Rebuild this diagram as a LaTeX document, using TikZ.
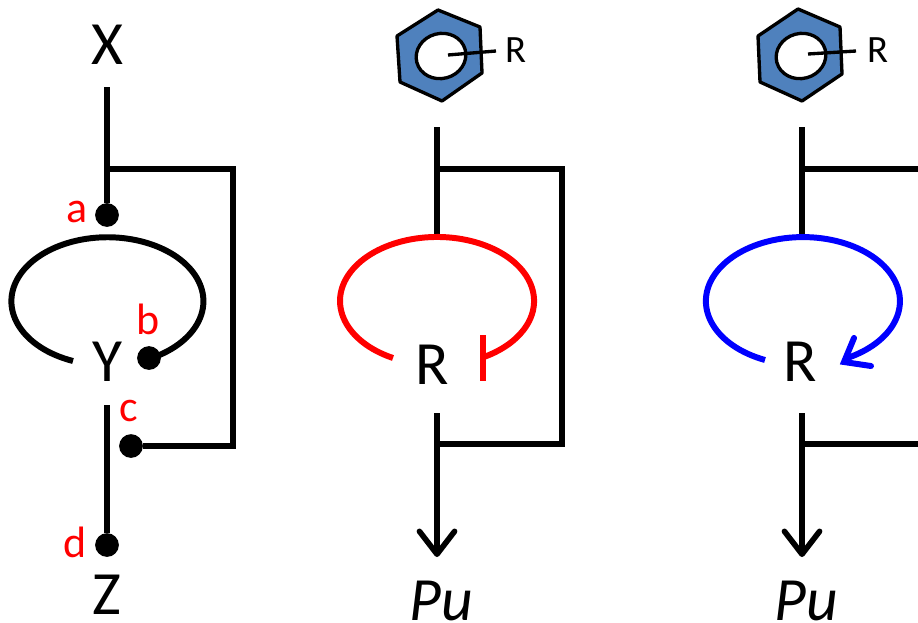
\documentclass[tikz,border=0pt]{standalone}
\usepackage{fontspec}
\setmainfont{Carlito}
\usetikzlibrary{arrows.meta}
\definecolor{ringblue}{RGB}{79,129,189}
\tikzset{
    wire/.style={line width=3.2pt},
    arrowwire/.style={wire, -{Straight Barb[length=13pt, width=20pt, line width=3.2pt, round]}},
    loopwire/.style={line width=3.4pt},
    dotmark/.style={circle, fill=black, inner sep=0pt, minimum size=13.5pt},
    biglabel/.style={inner sep=0pt, font=\fontsize{35}{35}\selectfont},
    productlabel/.style={inner sep=0pt, font=\fontsize{35}{35}\selectfont\itshape},
    sitelabel/.style={inner sep=0pt, text=red, font=\fontsize{25}{25}\selectfont},
    grouplabel/.style={inner sep=0pt, font=\fontsize{22}{22}\selectfont},
    ringfill/.style={draw=black, line width=1.9pt, fill=ringblue, line join=round},
    ringhole/.style={draw=black, line width=1.9pt, fill=white},
    ringbond/.style={line width=1.9pt},
}
\begin{document}
\begin{tikzpicture}[x=0.02cm, y=-0.02cm]
    \useasboundingbox (0,0) rectangle (918,622);
    % left: X, Y, Z with the sites
    \node[biglabel] (X) at (107,45) {X};
    \node[biglabel] (Y) at (107,362) {Y};
    \node[biglabel] (Z) at (107,595) {Z};
    \node[dotmark] (dota) at (107,215) {};
    \node[dotmark] (dotb) at (149,358) {};
    \node[dotmark] (dotc) at (131,446) {};
    \node[dotmark] (dotd) at (107,545) {};
    \node[sitelabel] (laba) at (77,212) {a};
    \node[sitelabel] (labb) at (148,319) {b};
    \node[sitelabel] (labc) at (129,411) {c};
    \node[sitelabel] (labd) at (75,542) {d};
    \coordinate (Xout) at (107,87);
    \coordinate (Yout) at (107,405);
    \coordinate (joina) at (107,169);
    \coordinate (cornera) at (233,169);
    \coordinate (cornerb) at (233,446);
    \draw[wire] (Xout) -- (dota);
    \draw[wire] (joina) -- (cornera) -- (cornerb) -- (dotc);
    \draw[wire] (Yout) -- (dotd);
    \draw[loopwire] (73,361) arc[start angle=111, end angle=424, x radius=96, y radius=64];

    % middle: ring, R, Pu with the red loop
    \draw[ringfill] (438,10) -- (480,27) -- (482,73) -- (442,101) -- (400,82) -- (397,36) -- cycle;
    \draw[ringhole, rotate around={15:(441,56)}] (441,56) ellipse[x radius=25, y radius=22.5];
    \coordinate (bondin) at (448,55);
    \coordinate (bondout) at (496,51);
    \draw[ringbond] (bondin) -- (bondout);
    \node[grouplabel] (Rring) at (516,50) {R};
    \node[biglabel] (Rred) at (432,365) {R};
    \node[productlabel] (Pured) at (441,601) {Pu};
    \coordinate (ringout) at (437,127);
    \coordinate (looptop) at (437,237);
    \coordinate (Rout) at (437,413);
    \coordinate (arrowend) at (437,557);
    \coordinate (joinb) at (437,169);
    \coordinate (joinc) at (437,444);
    \coordinate (cornerc) at (562,169);
    \coordinate (cornerd) at (562,444);
    \coordinate (bartop) at (483,335);
    \coordinate (barbot) at (483,381);
    \draw[wire] (ringout) -- (looptop);
    \draw[wire] (joinb) -- (cornerc) -- (cornerd) -- (joinc);
    \draw[arrowwire] (Rout) -- (arrowend);
    \draw[loopwire, red] (393,358) arc[start angle=117, end angle=422, x radius=97, y radius=64];
    \draw[loopwire, red] (bartop) -- (barbot);

    % right: ring, R, Pu with the blue loop
    \draw[ringfill] (798,9) -- (840,27) -- (842,74) -- (802,101) -- (760,82) -- (758,36) -- cycle;
    \draw[ringhole, rotate around={15:(801,56)}] (801,56) ellipse[x radius=25, y radius=22.5];
    \coordinate (bondinb) at (808,54);
    \coordinate (bondoutb) at (856,51);
    \draw[ringbond] (bondinb) -- (bondoutb);
    \node[grouplabel] (Rringb) at (878,50) {R};
    \node[biglabel] (Rblue) at (800,362) {R};
    \node[productlabel] (Publue) at (806,601) {Pu};
    \coordinate (ringoutb) at (802,127);
    \coordinate (looptopb) at (802,237);
    \coordinate (Routb) at (802,413);
    \coordinate (arrowendb) at (802,557);
    \coordinate (joind) at (802,169);
    \coordinate (joine) at (802,444);
    \coordinate (edgea) at (918,169);
    \coordinate (edgeb) at (918,444);
    \draw[wire] (ringoutb) -- (looptopb);
    \draw[wire] (joind) -- (edgea);
    \draw[wire] (joine) -- (edgeb);
    \draw[arrowwire] (Routb) -- (arrowendb);
    \draw[loopwire, blue] (765,360) arc[start angle=113, end angle=425, x radius=97, y radius=64];
    \coordinate (tipb) at (844,362);
    \coordinate (barba) at (854,338);
    \coordinate (barbb) at (871,366);
    \draw[loopwire, blue, line cap=round] (barba) -- (tipb) -- (barbb);
\end{tikzpicture}
\end{document}
